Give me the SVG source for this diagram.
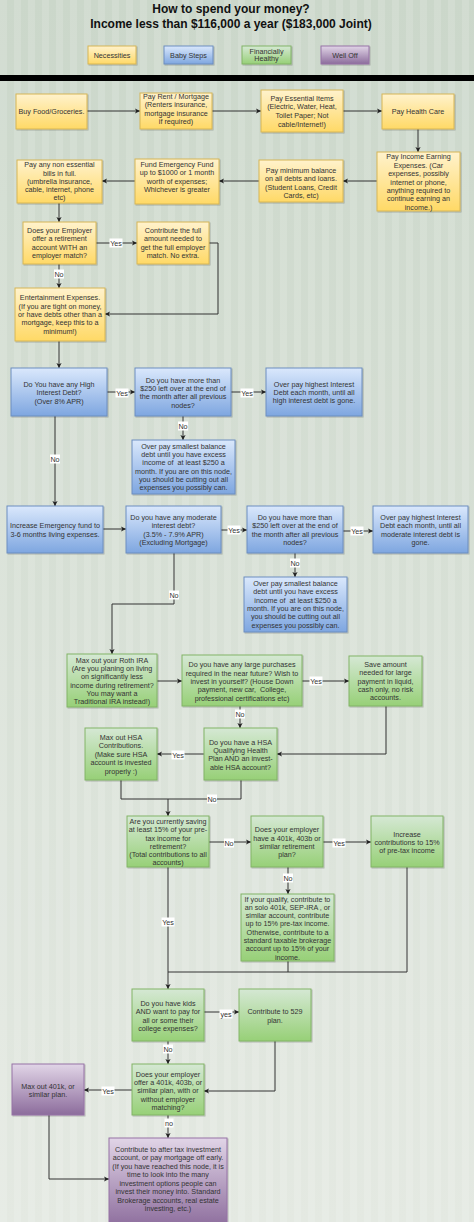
<svg xmlns="http://www.w3.org/2000/svg" width="474" height="1222" viewBox="0 0 474 1222">
<style>
.t{font-family:"Liberation Sans",Arial,sans-serif;font-size:7.2px;fill:#333;text-anchor:middle}
.h{font-family:"Liberation Sans",Arial,sans-serif;font-size:12px;font-weight:bold;fill:#111;text-anchor:middle}
.e{fill:none;stroke:#333;stroke-width:1}
.a{marker-end:url(#ar)}
.lb{fill:#fff}
.y{fill:url(#gy);stroke:#d6b656;stroke-width:1}
.b{fill:url(#gb);stroke:#6c8ebf;stroke-width:1}
.g{fill:url(#gg);stroke:#82b366;stroke-width:1}
.p{fill:url(#gp);stroke:#9673a6;stroke-width:1}
</style>
<defs>
<linearGradient id="bg" x1="0" y1="0" x2="0" y2="1"><stop offset="0" stop-color="#cbd7ca"/><stop offset="1" stop-color="#e4e9e2"/></linearGradient>
<pattern id="st" width="14" height="20" patternUnits="userSpaceOnUse"><rect width="7" height="20" fill="#fff" opacity="0.13"/></pattern>
<linearGradient id="gy" x1="0" y1="0" x2="0" y2="1"><stop offset="0" stop-color="#fff2cc"/><stop offset="1" stop-color="#ffd966"/></linearGradient>
<linearGradient id="gb" x1="0" y1="0" x2="0" y2="1"><stop offset="0" stop-color="#dae8fc"/><stop offset="1" stop-color="#7ea6e0"/></linearGradient>
<linearGradient id="gg" x1="0" y1="0" x2="0" y2="1"><stop offset="0" stop-color="#d5e8d4"/><stop offset="1" stop-color="#97d077"/></linearGradient>
<linearGradient id="gp" x1="0" y1="0" x2="0" y2="1"><stop offset="0" stop-color="#e1d5e7"/><stop offset="1" stop-color="#8c6c9c"/></linearGradient>
<filter id="sh" x="-10%" y="-10%" width="130%" height="130%"><feDropShadow dx="1" dy="1" stdDeviation="0.7" flood-color="#000" flood-opacity="0.22"/></filter>
<marker id="ar" markerWidth="6" markerHeight="6" refX="5" refY="3" orient="auto" markerUnits="userSpaceOnUse"><path d="M0,0.4 L5,3 L0,5.6 L1.2,3 z" fill="#222"/></marker>
</defs>

<g id="background">
<rect width="474" height="1222" fill="url(#bg)"/>
<rect width="474" height="1222" fill="url(#st)"/>
<rect x="0" y="75" width="474" height="6" fill="#000"/>
</g>

<g id="title">
<text class="h" x="231" y="13.3">How to spend your money?</text>
<text class="h" x="231" y="28.3">Income less than $116,000 a year ($183,000 Joint)</text>
</g>

<g id="legend">
<g id="leg-necessities"><rect class="y" x="88" y="46" width="48" height="18" filter="url(#sh)"/><text class="t" x="112" y="57.6">Necessities</text></g>
<g id="leg-babysteps"><rect class="b" x="164" y="46" width="49" height="18" filter="url(#sh)"/><text class="t" x="188.5" y="57.6">Baby Steps</text></g>
<g id="leg-healthy"><rect class="g" x="242" y="46" width="49" height="18" filter="url(#sh)"/><text class="t"><tspan x="266.5" y="53.6">Financially</tspan><tspan x="266.5" y="61.3">Healthy</tspan></text></g>
<g id="leg-welloff"><rect class="p" x="321" y="46" width="48" height="18" filter="url(#sh)"/><text class="t" x="345" y="57.6">Well Off</text></g>
</g>

<g id="connectors">
<path class="e a" d="M87,111 H140"/>
<path class="e a" d="M212,111 H261"/>
<path class="e a" d="M343,111 H382"/>
<path class="e a" d="M418,129 V152"/>
<path class="e a" d="M377,181 H343"/>
<path class="e a" d="M259,181 H219"/>
<path class="e a" d="M135,181 H102"/>
<path class="e a" d="M59,203 V222"/>
<path class="e a" d="M96,243 H137"/>
<path class="e a" d="M209,243 H218 V314 H105"/>
<path class="e a" d="M59,264 V288"/>
<path class="e a" d="M59,341 V368"/>
<path class="e a" d="M107,392 H135"/>
<path class="e a" d="M231,392 H266"/>
<path class="e a" d="M183,416 V440"/>
<path class="e a" d="M55,416 V506"/>
<path class="e a" d="M103,529 H126"/>
<path class="e a" d="M221,530 H247"/>
<path class="e a" d="M343,531 H373"/>
<path class="e a" d="M295,553 V577"/>
<path class="e a" d="M174,553 V604 H112 V654"/>
<path class="e a" d="M157,681 H182"/>
<path class="e a" d="M302,681 H349"/>
<path class="e a" d="M386,706 V754 H277"/>
<path class="e a" d="M240,706 V728"/>
<path class="e a" d="M204,754 H157"/>
<path class="e" d="M121,780 V799 H241 V780"/>
<path class="e a" d="M168,799 V816"/>
<path class="e a" d="M209,842 H251"/>
<path class="e a" d="M323,842 H371"/>
<path class="e a" d="M288,867 V894"/>
<path class="e a" d="M168,867 V989"/>
<path class="e" d="M407,867 V972 H168 M288,961 V972"/>
<path class="e a" d="M204,1012 H239"/>
<path class="e a" d="M168,1041 V1064"/>
<path class="e a" d="M275,1041 V1091 H204"/>
<path class="e a" d="M132,1090 H84"/>
<path class="e a" d="M168,1115 V1138"/>
<path class="e a" d="M49,1115 V1179 H109"/>
<g id="edge-labels">
<rect class="lb" x="109.5" y="238.5" width="13" height="9"/><text class="t" x="116" y="245.6">Yes</text>
<rect class="lb" x="54" y="269.5" width="10" height="9"/><text class="t" x="59" y="276.6">No</text>
<rect class="lb" x="115.5" y="388.5" width="13" height="9"/><text class="t" x="122" y="395.6">Yes</text>
<rect class="lb" x="240.5" y="388.5" width="13" height="9"/><text class="t" x="247" y="395.6">Yes</text>
<rect class="lb" x="178" y="421.5" width="10" height="9"/><text class="t" x="183" y="428.6">No</text>
<rect class="lb" x="50" y="454.5" width="10" height="9"/><text class="t" x="55" y="461.6">No</text>
<rect class="lb" x="227.5" y="525.5" width="13" height="9"/><text class="t" x="234" y="532.6">Yes</text>
<rect class="lb" x="350.5" y="526.5" width="13" height="9"/><text class="t" x="357" y="533.6">Yes</text>
<rect class="lb" x="290" y="558.5" width="10" height="9"/><text class="t" x="295" y="565.6">No</text>
<rect class="lb" x="169" y="590.5" width="10" height="9"/><text class="t" x="174" y="597.6">No</text>
<rect class="lb" x="309.5" y="676.5" width="13" height="9"/><text class="t" x="316" y="683.6">Yes</text>
<rect class="lb" x="235" y="709.5" width="10" height="9"/><text class="t" x="240" y="716.6">No</text>
<rect class="lb" x="171.5" y="750.5" width="13" height="9"/><text class="t" x="178" y="757.6">Yes</text>
<rect class="lb" x="207" y="794.5" width="10" height="9"/><text class="t" x="212" y="801.6">No</text>
<rect class="lb" x="224" y="838.5" width="10" height="9"/><text class="t" x="229" y="845.6">No</text>
<rect class="lb" x="332.5" y="838.5" width="13" height="9"/><text class="t" x="339" y="845.6">Yes</text>
<rect class="lb" x="283" y="873.5" width="10" height="9"/><text class="t" x="288" y="880.6">No</text>
<rect class="lb" x="161.5" y="917.5" width="13" height="9"/><text class="t" x="168" y="924.6">Yes</text>
<rect class="lb" x="219.5" y="1009.5" width="13" height="9"/><text class="t" x="226" y="1016.6">yes</text>
<rect class="lb" x="163" y="1044.5" width="10" height="9"/><text class="t" x="168" y="1051.6">No</text>
<rect class="lb" x="101.5" y="1086.5" width="13" height="9"/><text class="t" x="108" y="1093.6">Yes</text>
<rect class="lb" x="164.5" y="1118.5" width="9" height="9"/><text class="t" x="169" y="1125.6">no</text>
</g>
</g>

<g id="n1"><rect class="y" x="16" y="94" width="71" height="35" filter="url(#sh)"/><text class="t" x="51.5" y="114">Buy Food/Groceries.</text></g>
<g id="n2"><rect class="y" x="140" y="93" width="72" height="36" filter="url(#sh)"/><text class="t"><tspan x="176" y="98.6">Pay Rent / Mortgage</tspan><tspan x="176" y="107.3">(Renters insurance,</tspan><tspan x="176" y="115.9">mortgage insurance</tspan><tspan x="176" y="124.3">if required)</tspan></text></g>
<g id="n3"><rect class="y" x="261" y="90" width="82" height="42" filter="url(#sh)"/><text class="t"><tspan x="302" y="100.9">Pay Essential Items</tspan><tspan x="302" y="109.3">(Electric, Water, Heat,</tspan><tspan x="302" y="118.3">Toilet Paper; Not</tspan><tspan x="302" y="126.6">cable/Internet!)</tspan></text></g>
<g id="n4"><rect class="y" x="382" y="94" width="72" height="35" filter="url(#sh)"/><text class="t" x="418" y="113.9">Pay Health Care</text></g>
<g id="n5"><rect class="y" x="377" y="152" width="83" height="59" filter="url(#sh)"/><text class="t"><tspan x="418.5" y="159.3">Pay Income Earning</tspan><tspan x="418.5" y="167.7">Expenses. (Car</tspan><tspan x="418.5" y="176.1">expenses, possibly</tspan><tspan x="418.5" y="184.5">internet or phone,</tspan><tspan x="418.5" y="192.9">anything required to</tspan><tspan x="418.5" y="201.3">continue earning an</tspan><tspan x="418.5" y="209.7">income.)</tspan></text></g>
<g id="n6"><rect class="y" x="259" y="160" width="84" height="42" filter="url(#sh)"/><text class="t"><tspan x="301" y="172.6">Pay minimum balance</tspan><tspan x="301" y="181.3">on all debts and loans.</tspan><tspan x="301" y="189.5">(Student Loans, Credit</tspan><tspan x="301" y="197.6">Cards, etc)</tspan></text></g>
<g id="n7"><rect class="y" x="135" y="159" width="84" height="45" filter="url(#sh)"/><text class="t"><tspan x="177" y="166.6">Fund Emergency Fund</tspan><tspan x="177" y="175.3">up to $1000 or 1 month</tspan><tspan x="177" y="183.6">worth of expenses;</tspan><tspan x="177" y="191.9">Whichever is greater</tspan></text></g>
<g id="n8"><rect class="y" x="17" y="160" width="85" height="43" filter="url(#sh)"/><text class="t"><tspan x="59.5" y="167.3">Pay any non essential</tspan><tspan x="59.5" y="175.9">bills in full.</tspan><tspan x="59.5" y="183.9">(umbrella insurance,</tspan><tspan x="59.5" y="191.9">cable, internet, phone</tspan><tspan x="59.5" y="200.4">etc)</tspan></text></g>
<g id="n9"><rect class="y" x="23" y="222" width="73" height="42" filter="url(#sh)"/><text class="t"><tspan x="59.5" y="232.6">Does your Employer</tspan><tspan x="59.5" y="241.3">offer a retirement</tspan><tspan x="59.5" y="249.9">account WITH an</tspan><tspan x="59.5" y="258.3">employer match?</tspan></text></g>
<g id="n10"><rect class="y" x="137" y="222" width="72" height="42" filter="url(#sh)"/><text class="t"><tspan x="173" y="232.6">Contribute the full</tspan><tspan x="173" y="241.3">amount needed to</tspan><tspan x="173" y="249.9">get the full employer</tspan><tspan x="173" y="258.3">match. No extra.</tspan></text></g>
<g id="n11"><rect class="y" x="15" y="288" width="90" height="53" filter="url(#sh)"/><text class="t"><tspan x="60" y="300.3">Entertainment Expenses.</tspan><tspan x="60" y="308.6">(If you are tight on money,</tspan><tspan x="60" y="316.9">or have debts other than a</tspan><tspan x="60" y="325.3">mortgage, keep this to a</tspan><tspan x="60" y="333.6">minimum!)</tspan></text></g>
<g id="n12"><rect class="b" x="11" y="368" width="96" height="48" filter="url(#sh)"/><text class="t"><tspan x="59" y="386.6">Do You have any High</tspan><tspan x="59" y="394.9">Interest Debt?</tspan><tspan x="59" y="403.6">(Over 8% APR)</tspan></text></g>
<g id="n13"><rect class="b" x="135" y="368" width="96" height="48" filter="url(#sh)"/><text class="t"><tspan x="183" y="382.6">Do you have more than</tspan><tspan x="183" y="390.9">$250 left over at the end of</tspan><tspan x="183" y="399.3">the month after all previous</tspan><tspan x="183" y="407.6">nodes?</tspan></text></g>
<g id="n14"><rect class="b" x="266" y="368" width="96" height="48" filter="url(#sh)"/><text class="t"><tspan x="314" y="386.6">Over pay highest Interest</tspan><tspan x="314" y="394.9">Debt each month, until all</tspan><tspan x="314" y="403.3">high interest debt is gone.</tspan></text></g>
<g id="n15"><rect class="b" x="132" y="440" width="103" height="54" filter="url(#sh)"/><text class="t"><tspan x="183.5" y="448.6">Over pay smallest balance</tspan><tspan x="183.5" y="456.9">debt until you have excess</tspan><tspan x="183.5" y="465.3">income of&#160; at least $250 a</tspan><tspan x="183.5" y="473.6">month. If you are on this node,</tspan><tspan x="183.5" y="481.9">you should be cutting out all</tspan><tspan x="183.5" y="490.3">expenses you possibly can.</tspan></text></g>
<g id="n16"><rect class="b" x="7" y="506" width="96" height="47" filter="url(#sh)"/><text class="t"><tspan x="55" y="528.3">Increase Emergency fund to</tspan><tspan x="55" y="536.6">3-6 months living expenses.</tspan></text></g>
<g id="n17"><rect class="b" x="126" y="506" width="95" height="47" filter="url(#sh)"/><text class="t"><tspan x="173.5" y="519.9">Do you have any moderate</tspan><tspan x="173.5" y="528.3">interest debt?</tspan><tspan x="173.5" y="536.6">(3.5% - 7.9% APR)</tspan><tspan x="173.5" y="544.9">(Excluding Mortgage)</tspan></text></g>
<g id="n18"><rect class="b" x="247" y="506" width="96" height="47" filter="url(#sh)"/><text class="t"><tspan x="295" y="519.9">Do you have more than</tspan><tspan x="295" y="528.3">$250 left over at the end of</tspan><tspan x="295" y="536.6">the month after all previous</tspan><tspan x="295" y="544.9">nodes?</tspan></text></g>
<g id="n19"><rect class="b" x="373" y="506" width="95" height="47" filter="url(#sh)"/><text class="t"><tspan x="420.5" y="519.9">Over pay highest Interest</tspan><tspan x="420.5" y="528.3">Debt each month, until all</tspan><tspan x="420.5" y="536.6">moderate interest debt is</tspan><tspan x="420.5" y="544.9">gone.</tspan></text></g>
<g id="n20"><rect class="b" x="244" y="577" width="103" height="55" filter="url(#sh)"/><text class="t"><tspan x="295.5" y="585.9">Over pay smallest balance</tspan><tspan x="295.5" y="594.3">debt until you have excess</tspan><tspan x="295.5" y="602.6">income of&#160; at least $250 a</tspan><tspan x="295.5" y="610.9">month. If you are on this node,</tspan><tspan x="295.5" y="619.3">you should be cutting out all</tspan><tspan x="295.5" y="627.6">expenses you possibly can.</tspan></text></g>
<g id="n21"><rect class="g" x="67" y="654" width="90" height="53" filter="url(#sh)"/><text class="t"><tspan x="112" y="662.6">Max out your Roth IRA</tspan><tspan x="112" y="670.9">(Are you planing on living</tspan><tspan x="112" y="679.3">on significantly less</tspan><tspan x="112" y="687.6">income during retirement?</tspan><tspan x="112" y="695.9">You may want a</tspan><tspan x="112" y="704.3">Traditional IRA instead!)</tspan></text></g>
<g id="n22"><rect class="g" x="182" y="655" width="120" height="51" filter="url(#sh)"/><text class="t"><tspan x="242" y="666.9">Do you have any large purchases</tspan><tspan x="242" y="675.6">required in the near future? Wish to</tspan><tspan x="242" y="683.9">invest in yourself? (House Down</tspan><tspan x="242" y="692.3">payment, new car,&#160; College,</tspan><tspan x="242" y="700.6">professional certifications etc)</tspan></text></g>
<g id="n23"><rect class="g" x="349" y="656" width="73" height="50" filter="url(#sh)"/><text class="t"><tspan x="385.5" y="666.9">Save amount</tspan><tspan x="385.5" y="675.3">needed for large</tspan><tspan x="385.5" y="683.6">payment in liquid,</tspan><tspan x="385.5" y="691.9">cash only, no risk</tspan><tspan x="385.5" y="700.3">accounts.</tspan></text></g>
<g id="n24"><rect class="g" x="85" y="728" width="72" height="52" filter="url(#sh)"/><text class="t"><tspan x="121" y="739.9">Max out HSA</tspan><tspan x="121" y="748.3">Contributions.</tspan><tspan x="121" y="756.9">(Make sure HSA</tspan><tspan x="121" y="765.3">account is invested</tspan><tspan x="121" y="773.9">properly :)</tspan></text></g>
<g id="n25"><rect class="g" x="204" y="728" width="73" height="52" filter="url(#sh)"/><text class="t"><tspan x="240.5" y="744.9">Do you have a HSA</tspan><tspan x="240.5" y="752.9">Qualifying Health</tspan><tspan x="240.5" y="761.3">Plan AND an invest-</tspan><tspan x="240.5" y="769.6">able HSA account?</tspan></text></g>
<g id="n26"><rect class="g" x="127" y="816" width="82" height="51" filter="url(#sh)"/><text class="t"><tspan x="168" y="824.3">Are you currently saving</tspan><tspan x="168" y="832.3">at least 15% of your pre-</tspan><tspan x="168" y="840.6">tax income for</tspan><tspan x="168" y="848.6">retirement?</tspan><tspan x="168" y="856.9">(Total contributions to all</tspan><tspan x="168" y="864.9">accounts)</tspan></text></g>
<g id="n27"><rect class="g" x="251" y="816" width="72" height="51" filter="url(#sh)"/><text class="t"><tspan x="287" y="832.3">Does your employer</tspan><tspan x="287" y="840.6">have a 401k, 403b or</tspan><tspan x="287" y="848.6">similar retirement</tspan><tspan x="287" y="857.3">plan?</tspan></text></g>
<g id="n28"><rect class="g" x="371" y="816" width="72" height="51" filter="url(#sh)"/><text class="t"><tspan x="407" y="836.6">Increase</tspan><tspan x="407" y="844.9">contributions to 15%</tspan><tspan x="407" y="853.3">of pre-tax income</tspan></text></g>
<g id="n29"><rect class="g" x="241" y="894" width="93" height="67" filter="url(#sh)"/><text class="t"><tspan x="287.5" y="901.6">If your qualify, contribute to</tspan><tspan x="287.5" y="909.9">an solo 401k, SEP-IRA , or</tspan><tspan x="287.5" y="917.9">similar account, contribute</tspan><tspan x="287.5" y="926.3">up to 15% pre-tax income.</tspan><tspan x="287.5" y="934.6">Otherwise, contribute to a</tspan><tspan x="287.5" y="942.9">standard taxable brokerage</tspan><tspan x="287.5" y="951.3">account up to 15% of your</tspan><tspan x="287.5" y="959.6">income.</tspan></text></g>
<g id="n30"><rect class="g" x="132" y="989" width="72" height="52" filter="url(#sh)"/><text class="t"><tspan x="168" y="1005.9">Do you have kids</tspan><tspan x="168" y="1014.3">AND want to pay for</tspan><tspan x="168" y="1022.6">all or some their</tspan><tspan x="168" y="1030.9">college expenses?</tspan></text></g>
<g id="n31"><rect class="g" x="239" y="989" width="72" height="52" filter="url(#sh)"/><text class="t"><tspan x="275" y="1014.3">Contribute to 529</tspan><tspan x="275" y="1022.6">plan.</tspan></text></g>
<g id="n32"><rect class="p" x="12" y="1064" width="72" height="51" filter="url(#sh)"/><text class="t"><tspan x="48" y="1088.6">Max out 401k, or</tspan><tspan x="48" y="1096.9">similar plan.</tspan></text></g>
<g id="n33"><rect class="g" x="132" y="1064" width="72" height="51" filter="url(#sh)"/><text class="t"><tspan x="168" y="1076.6">Does your employer</tspan><tspan x="168" y="1084.9">offer a 401k, 403b, or</tspan><tspan x="168" y="1093.3">similar plan, with or</tspan><tspan x="168" y="1101.6">without employer</tspan><tspan x="168" y="1109.9">matching?</tspan></text></g>
<g id="n34"><rect class="p" x="109" y="1138" width="118" height="90" filter="url(#sh)"/><text class="t"><tspan x="168" y="1151.9">Contribute to after tax investment</tspan><tspan x="168" y="1160.3">account, or pay mortgage off early.</tspan><tspan x="168" y="1168.6">(If you have reached this node, it is</tspan><tspan x="168" y="1177.3">time to look into the many</tspan><tspan x="168" y="1185.6">investment options people can</tspan><tspan x="168" y="1193.9">invest their money into. Standard</tspan><tspan x="168" y="1202.6">Brokerage accounts, real estate</tspan><tspan x="168" y="1210.9">investing, etc.)</tspan></text></g>
</svg>
